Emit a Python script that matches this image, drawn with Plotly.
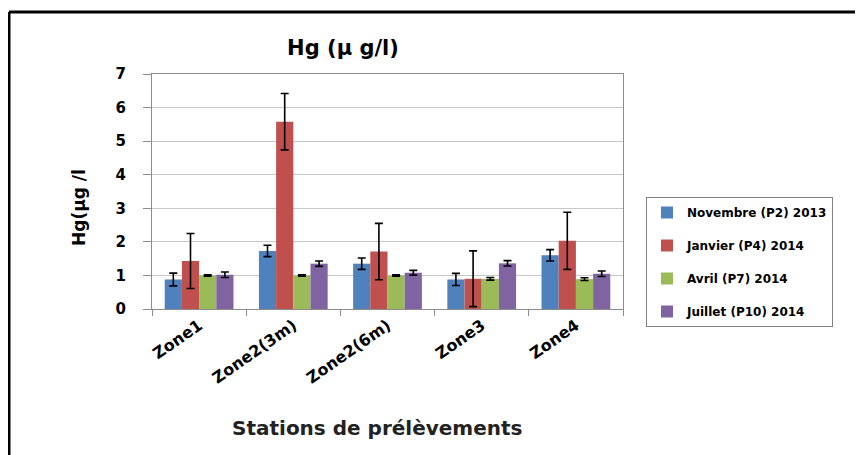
import plotly.graph_objects as go

categories = ["Zone1", "Zone2(3m)", "Zone2(6m)", "Zone3", "Zone4"]
series_names = ["Novembre (P2) 2013", "Janvier (P4) 2014", "Avril (P7) 2014", "Juillet (P10) 2014"]
nov = [0.88, 1.73, 1.35, 0.88, 1.60]
jan = [1.43, 5.58, 1.71, 0.90, 2.03]
avr = [1.00, 1.00, 1.00, 0.90, 0.89]
jui = [1.02, 1.35, 1.08, 1.36, 1.05]
nov_err = [0.19, 0.17, 0.17, 0.18, 0.17]
jan_err = [0.82, 0.84, 0.84, 0.83, 0.85]
avr_err = [0.02, 0.02, 0.02, 0.04, 0.04]
jui_err = [0.08, 0.08, 0.07, 0.08, 0.08]
colors = ["#4F81BD", "#C0504D", "#9BBB59", "#8064A2"]

OFF = 8  # page body margin
W, H = 863 - OFF, 455 - OFF
L, R, T, B = 152 - OFF, 623 - OFF, 74 - OFF, 309 - OFF

def px_x(x):
    # x given in screenshot pixels
    return (x - OFF - L) / (R - L)

def px_y(y):
    return (B - (y - OFF)) / (B - T)

FONT = "DejaVu Sans"
fig = go.Figure()
for i, (name, vals, errs) in enumerate(zip(series_names, [nov, jan, avr, jui],
                                           [nov_err, jan_err, avr_err, jui_err])):
    fig.add_trace(go.Bar(
        x=categories, y=vals, name=name,
        marker=dict(color=colors[i], line=dict(width=0)),
        error_y=dict(type="data", array=errs, visible=True, color="black",
                     thickness=1.6, width=4),
        legendgroup=f"g{i}",
    ))

fig.update_layout(
    width=W, height=H,
    margin=dict(l=L, r=W - R, t=T, b=H - B, pad=0, autoexpand=False),
    paper_bgcolor="white", plot_bgcolor="white",
    barmode="group", bargap=0.27, bargroupgap=0,
    font=dict(family=FONT, color="black"),
    title=dict(text="<b>Hg (µ g/l)</b>", x=px_x(343), xref="paper",
               y=1 - (48 - OFF) / H, yref="container", xanchor="center", yanchor="middle",
               font=dict(family=FONT, size=21, color="black")),
    showlegend=True,
    legend=dict(x=px_x(646), y=px_y(197), xanchor="left", yanchor="top",
                bordercolor="#808080", borderwidth=1, bgcolor="white",
                font=dict(family=FONT, size=12, color="black", weight="bold"),
                tracegroupgap=14, itemwidth=30),
)
fig.update_yaxes(range=[0, 7], dtick=1, showgrid=True, gridcolor="#C8C8C8", gridwidth=1,
                 showline=True, linecolor="#8C8C8C", linewidth=1, mirror=True,
                 ticks="outside", ticklen=8, tickcolor="#8C8C8C", automargin=False,
                 tickfont=dict(family=FONT, size=15, color="black", weight="bold"),
                 ticklabelstandoff=14, zeroline=False)
fig.update_xaxes(showline=True, linecolor="#8C8C8C", linewidth=1, mirror=True,
                 ticks="outside", ticklen=6, tickcolor="#8C8C8C", tickson="boundaries",
                 tickangle=-35, automargin=False,
                 tickfont=dict(family=FONT, size=16, color="black", weight="bold"))

fig.add_annotation(text="<b>Hg(µg /l</b>", x=px_x(79), y=px_y(208), xref="paper", yref="paper",
                   xanchor="center", yanchor="middle",
                   textangle=-90, showarrow=False, font=dict(family=FONT, size=17, color="black"))
fig.add_annotation(text="<b>Stations de prélèvements</b>", x=px_x(377), y=px_y(428),
                   xref="paper", yref="paper", xanchor="center", yanchor="middle", showarrow=False,
                   font=dict(family=FONT, size=20, color="#222222"))

# outer frame (top and left edges visible)
fig.add_shape(type="line", xref="paper", yref="paper", x0=px_x(9), x1=px_x(900), y0=px_y(12), y1=px_y(12),
              line=dict(color="black", width=3))
fig.add_shape(type="line", xref="paper", yref="paper", x0=px_x(9), x1=px_x(9), y0=px_y(12), y1=px_y(470),
              line=dict(color="black", width=3))

fig.write_html("out.html")
